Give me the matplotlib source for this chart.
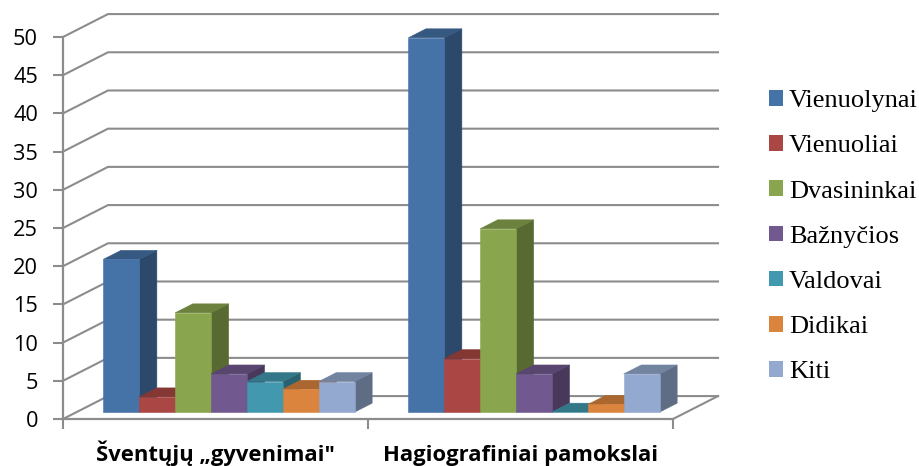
import numpy as np
import matplotlib
matplotlib.use('Agg')
import matplotlib.pyplot as plt
from matplotlib.patches import Polygon, Patch
from matplotlib.colors import to_rgb

# --- Data ---
categories = ['Šventųjų „gyvenimai"', 'Hagiografiniai pamokslai']
series = ['Vienuolynai', 'Vienuoliai', 'Dvasininkai', 'Bažnyčios', 'Valdovai', 'Didikai', 'Kiti']
sventuju = [20, 2, 13, 5, 4, 3, 4]
pamokslai = [49, 7, 24, 5, 0, 1, 5]
y_ticks = [0, 5, 10, 15, 20, 25, 30, 35, 40, 45, 50]

# --- Style ---
colors = ['#4572A7', '#AA4643', '#89A54E', '#71588F', '#4198AF', '#DB843D', '#93A9CF']
GRID = '#8c8c8c'
DX = 45 / 305  # full depth of the box in x units
DY = 3.0       # full depth of the box in value units
BAR_W = 1 / 8.5
GAP = 0.75 * BAR_W
D_FRONT = 0.30
D_BACK = 0.69

def shade(color, f):
    return tuple(c * f for c in to_rgb(color))

def pt(x, y, d):
    # oblique projection: depth d goes right and up
    return (x + d * DX, y + d * DY)

def draw_bar(ax, x, v, color, z):
    x2 = x + BAR_W
    front = [pt(x, 0, D_FRONT), pt(x2, 0, D_FRONT), pt(x2, v, D_FRONT), pt(x, v, D_FRONT)]
    side = [pt(x2, 0, D_FRONT), pt(x2, 0, D_BACK), pt(x2, v, D_BACK), pt(x2, v, D_FRONT)]
    top = [pt(x, v, D_FRONT), pt(x2, v, D_FRONT), pt(x2, v, D_BACK), pt(x, v, D_BACK)]
    for verts, f in ((side, 0.64), (top, 0.78), (front, 1.0)):
        c = shade(color, f)
        ax.add_patch(Polygon(verts, closed=True, fc=c, ec=c, lw=0.4, zorder=z, clip_on=False))

fig = plt.figure(figsize=(9.2, 4.66), dpi=100)
ax = fig.add_axes([63 / 920, 1 - 419 / 466, 610 / 920, 382 / 466])
ax.set_xlim(0, 2)
ax.set_ylim(0, 50)

# --- Walls ---
for v in y_ticks:
    ax.plot([0, DX, 2 + DX], [v, v + DY, v + DY], color=GRID, lw=1.5, zorder=1,
            clip_on=False, solid_joinstyle='miter')
ax.plot([2, 2 + DX], [0, DY], color=GRID, lw=1.5, zorder=1, clip_on=False)

# --- Bars, left to right so later ones cover the side of earlier ones ---
z = 3
for i, vals in enumerate([sventuju, pamokslai]):
    for j, v in enumerate(vals):
        draw_bar(ax, i + GAP + j * BAR_W, v, colors[j], z)
        z += 1

# --- Axes ---
for s in ['top', 'right']:
    ax.spines[s].set_visible(False)
for s in ['left', 'bottom']:
    ax.spines[s].set_color(GRID)
    ax.spines[s].set_linewidth(1.6)
    ax.spines[s].set_zorder(2)
ax.set_yticks(y_ticks)
ax.tick_params(axis='y', length=7, width=1.5, color=GRID, pad=11, labelsize=15.7, labelcolor='black')
for lab in ax.get_yticklabels():
    lab.set_family('Open Sans')
ax.set_xticks([0, 1, 2])
ax.set_xticklabels([])
ax.tick_params(axis='x', which='major', length=7, width=1.5, color=GRID)
ax.set_xticks([0.5, 1.5], minor=True)
ax.set_xticklabels(categories, minor=True, family='Open Sans', fontweight='bold', fontsize=15.8)
ax.tick_params(axis='x', which='minor', length=0, pad=30)
for lab in ax.get_xticklabels(minor=True):
    lab.set_verticalalignment('baseline')

# --- Legend ---
handles = [Patch(fc=c, ec=c, lw=0) for c in colors]
fig.legend(handles, series, loc='upper left', bbox_to_anchor=(769 / 920, 1 - 90 / 466),
           bbox_transform=fig.transFigure, frameon=False, borderpad=0, borderaxespad=0,
           prop={'family': 'Liberation Serif', 'size': 19}, labelspacing=0.875,
           handlelength=0.53, handleheight=0.53, handletextpad=0.23)

fig.savefig('out.png', dpi=100)
